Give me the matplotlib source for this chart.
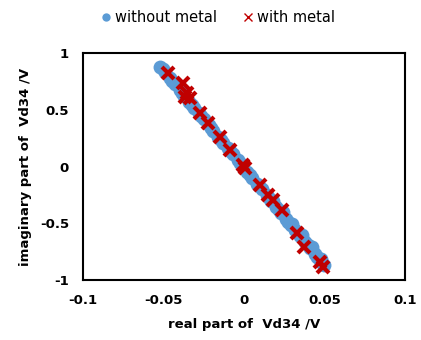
import matplotlib
matplotlib.use('Agg')
import matplotlib.pyplot as plt

# without metal: dense band of points (read along the band)
blueX = [-0.052, -0.049, -0.046, -0.043, -0.040, -0.037, -0.034, -0.031, -0.028, -0.025,
         -0.022, -0.019, -0.016, -0.013, -0.010, -0.007, -0.004, -0.001, 0.002, 0.005,
         0.008, 0.011, 0.014, 0.017, 0.020, 0.023, 0.026, 0.029, 0.032, 0.035,
         0.038, 0.041, 0.044, 0.047, 0.050,
         -0.0505, -0.0445, -0.0385, -0.0325, -0.0265, -0.0205, -0.0145, -0.0085, -0.0025,
         0.0035, 0.0095, 0.0155, 0.0215, 0.0275, 0.0335, 0.0395, 0.0455, 0.0485,
         0.018, 0.024, 0.030, 0.036, 0.042, 0.048]
blueY = [0.880, 0.829, 0.777, 0.726, 0.674, 0.623, 0.571, 0.520, 0.468, 0.417,
         0.366, 0.314, 0.263, 0.211, 0.160, 0.108, 0.057, 0.005, -0.046, -0.098,
         -0.149, -0.201, -0.252, -0.304, -0.355, -0.407, -0.458, -0.510, -0.561, -0.613,
         -0.664, -0.716, -0.767, -0.819, -0.870,
         0.860, 0.750, 0.650, 0.545, 0.445, 0.340, 0.237, 0.134, 0.031,
         -0.072, -0.175, -0.278, -0.381, -0.484, -0.587, -0.690, -0.793, -0.845,
         -0.300, -0.400, -0.505, -0.605, -0.705, -0.810]

# with metal
redX = [-0.047, -0.0377, -0.0352, -0.0335, -0.0366, -0.0273, -0.0222, -0.0149, -0.0087,
        0.0006, -0.0004, 0.0099, 0.0151, 0.0182, 0.0234, 0.0327, 0.0373, 0.0472, 0.0493]
redY = [0.826, 0.733, 0.645, 0.600, 0.615, 0.469, 0.380, 0.263, 0.145,
        -0.016, 0.010, -0.163, -0.251, -0.295, -0.383, -0.583, -0.706, -0.839, -0.883]

fig = plt.figure(figsize=(4.21, 3.40), dpi=100)
ax = fig.add_axes([0.197, 0.176, 0.765, 0.668])

ax.plot(blueX, blueY, linestyle='none', marker='o', markersize=10,
        color='#5B9BD5', markeredgewidth=0, label='without metal')
ax.plot(redX, redY, linestyle='none', marker='x', markersize=8.5,
        color='#C00000', markeredgewidth=3, label='with metal')

ax.set_xlim(-0.1, 0.1)
ax.set_ylim(-1, 1)
ax.set_xticks([-0.1, -0.05, 0, 0.05, 0.1])
ax.set_xticklabels(['-0.1', '-0.05', '0', '0.05', '0.1'])
ax.set_yticks([-1, -0.5, 0, 0.5, 1])
ax.set_yticklabels(['-1', '-0.5', '0', '0.5', '1'])
ax.tick_params(length=0, pad=10, labelsize=9.5)
for lbl in ax.get_xticklabels() + ax.get_yticklabels():
    lbl.set_fontweight('bold')
for sp in ax.spines.values():
    sp.set_linewidth(1.5)
    sp.set_color('black')

ax.set_xlabel('real part of  Vd34 /V', fontsize=9.5, fontweight='bold', labelpad=8)
ax.set_ylabel('imaginary part of  Vd34 /V', fontsize=9.5, fontweight='bold', labelpad=6)

h = [plt.Line2D([], [], linestyle='none', marker='o', markersize=6, color='#5B9BD5', markeredgewidth=0),
     plt.Line2D([], [], linestyle='none', marker='x', markersize=6, color='#C00000', markeredgewidth=1)]
fig.legend(h, ['without metal', 'with metal'], loc='upper center', bbox_to_anchor=(0.515, 1.01),
           ncol=2, frameon=False, fontsize=10.5, handletextpad=0.1, columnspacing=1.6,
           handlelength=1)

fig.savefig('out.png', dpi=100)
